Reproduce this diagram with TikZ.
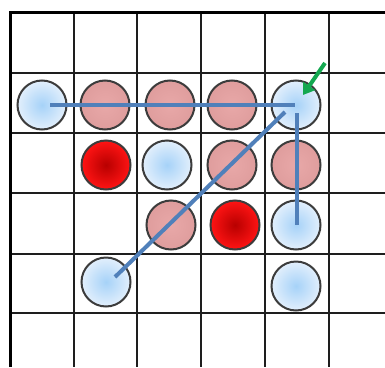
\documentclass[tikz,border=0pt]{standalone}
\usetikzlibrary{arrows.meta,calc}
\definecolor{gridc}{HTML}{1E1E1E}
\definecolor{linkc}{HTML}{5080BA}
\definecolor{arrowc}{HTML}{14A850}
\definecolor{blueIn}{HTML}{A6D2F8}
\definecolor{blueOut}{HTML}{E2EFFC}
\definecolor{pinkIn}{HTML}{E8A8A8}
\definecolor{pinkOut}{HTML}{DF9D9D}
\definecolor{redIn}{HTML}{B80000}
\definecolor{redOut}{HTML}{FF1414}
\definecolor{rimc}{HTML}{3C3C3C}
\tikzset{
  ball/.style={circle, minimum size=49pt, inner sep=0pt, draw=rimc, line width=2pt},
  blueball/.style={ball, inner color=blueIn, outer color=blueOut},
  pinkball/.style={ball, inner color=pinkIn, outer color=pinkOut},
  redball/.style={ball, inner color=redIn, outer color=redOut},
  gridline/.style={draw=gridc, line width=1.6pt},
  borderline/.style={draw=black, line width=3pt},
  link/.style={draw=linkc, line width=4pt},
  pointer/.style={draw=arrowc, line width=4pt, -{Triangle[width=14pt,length=11pt]}},
}
\begin{document}
\begin{tikzpicture}[x=1pt,y=-1pt]
\useasboundingbox (0,0) rectangle (385,367);
\fill[white] (0,0) rectangle (385,367);
% grid
\foreach \x in {74,137,201,265,329} \draw[gridline] (\x,12) -- (\x,367);
\foreach \y in {73,133,193,254,313} \draw[gridline] (10,\y) -- (385,\y);
\draw[borderline] (10,367) -- (10,12) -- (385,12);
% balls row 1
\node[blueball] (b11) at (42,105) {};
\node[pinkball] (p12) at (105,105) {};
\node[pinkball] (p13) at (170,105) {};
\node[pinkball] (p14) at (232,105) {};
\node[blueball] (b15) at (296,105) {};
% row 2
\node[redball] (r22) at (106,165) {};
\node[blueball] (b23) at (167,165) {};
\node[pinkball] (p24) at (232,165) {};
\node[pinkball] (p25) at (296,165) {};
% row 3
\node[pinkball] (p33) at (171,225) {};
\node[redball] (r34) at (235,225) {};
\node[blueball] (b35) at (296,225) {};
% row 4
\node[blueball] (b42) at (106,282) {};
\node[blueball] (b45) at (296,286) {};
% links
\coordinate (h1) at ($(b11.center)+(8,0)$);
\coordinate (h2) at ($(b15.center)+(-1,0)$);
\coordinate (v1) at ($(b15.center)+(1,8)$);
\coordinate (v2) at ($(b35.center)+(1,0)$);
\coordinate (d1) at ($(b15.center)+(-11,7)$);
\coordinate (d2) at ($(b42.center)+(9,-5)$);
\draw[link] (h1) -- (h2);
\draw[link] (v1) -- (v2);
\draw[link] (d1) -- (d2);
% pointer
\coordinate (t0) at (325,63);
\draw[pointer] (t0) -- ($(b15.center)+(7,-10)$);
\end{tikzpicture}
\end{document}
